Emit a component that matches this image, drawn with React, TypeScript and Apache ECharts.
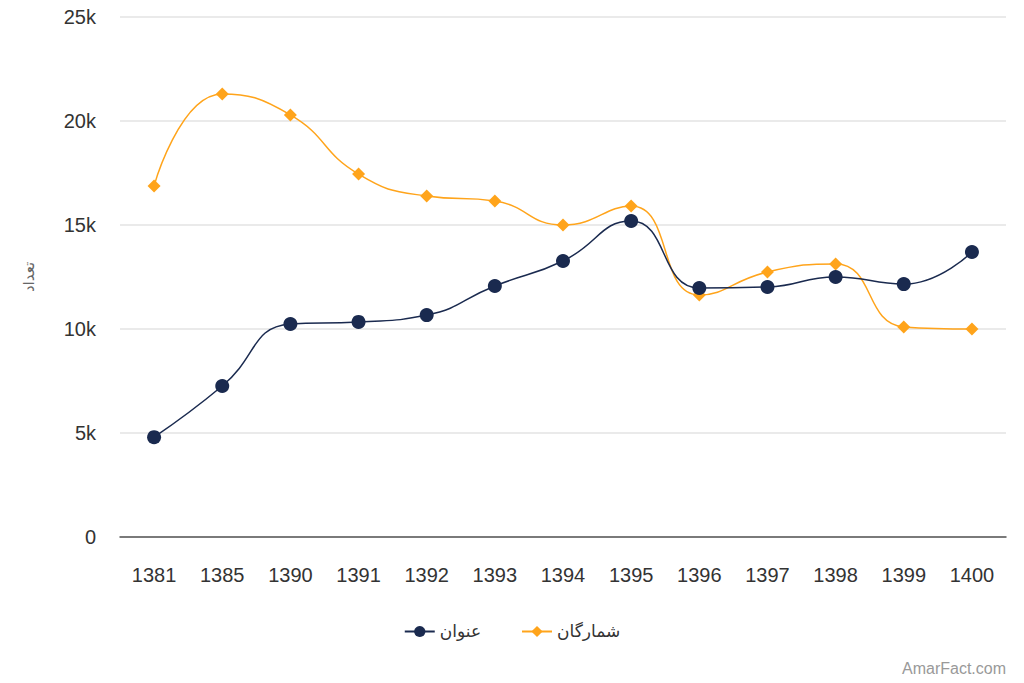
import React, { useEffect, useRef } from "react";
import * as echarts from "echarts";

const years = ["1381", "1385", "1390", "1391", "1392", "1393", "1394", "1395", "1396", "1397", "1398", "1399", "1400"];
const titles = [4800, 7260, 10240, 10340, 10670, 12070, 13270, 15190, 11970, 12020, 12500, 12160, 13700];
const copies = [16880, 21300, 20290, 17450, 16390, 16150, 15000, 15910, 11630, 12740, 13130, 10100, 10000];
const yTicks = [0, 5000, 10000, 15000, 20000, 25000];

const FONT = "'Liberation Sans', 'DejaVu Sans', sans-serif";

export default function App() {
  const ref = useRef<HTMLDivElement>(null);
  useEffect(() => {
    document.body.style.margin = "0";
    const chart = echarts.init(ref.current!, undefined, { renderer: "svg" });
    chart.setOption({
      animation: false,
      textStyle: { fontFamily: FONT },
      grid: { left: 120, right: 18, top: 17, bottom: 146 },
      legend: {
        bottom: 38,
        left: "center",
        itemGap: 40,
        itemWidth: 30,
        itemHeight: 14,
        textStyle: { fontSize: 17, color: "#333", fontFamily: FONT },
        data: ["عنوان", "شمارگان"],
      },
      xAxis: {
        type: "category",
        data: years,
        axisTick: { show: false },
        axisLine: { lineStyle: { color: "#555", width: 1.5 } },
        axisLabel: { fontSize: 20, color: "#333", margin: 28 },
      },
      yAxis: {
        type: "value",
        min: yTicks[0],
        max: yTicks[yTicks.length - 1],
        interval: 5000,
        name: "تعداد",
        nameLocation: "middle",
        nameRotate: 90,
        nameGap: 84,
        nameTextStyle: { fontSize: 15, color: "#666" },
        axisLabel: {
          fontSize: 20,
          color: "#333",
          margin: 24,
          formatter: (v: number) => (v === 0 ? "0" : v / 1000 + "k"),
        },
        splitLine: { lineStyle: { color: "#e3e3e3", width: 1.5 } },
      },
      series: [
        {
          name: "عنوان",
          type: "line",
          smooth: true,
          data: titles,
          symbol: "circle",
          symbolSize: 14,
          itemStyle: { color: "#1a2a4f" },
          lineStyle: { color: "#1a2a4f", width: 1.5 },
          z: 3,
        },
        {
          name: "شمارگان",
          type: "line",
          smooth: true,
          data: copies,
          symbol: "diamond",
          symbolSize: 13,
          itemStyle: { color: "#ffa41b" },
          lineStyle: { color: "#ffa41b", width: 1.5 },
          z: 2,
        },
      ],
      graphic: [
        {
          type: "text",
          right: 18,
          bottom: 7,
          style: { text: "AmarFact.com", fontSize: 16, fill: "#999", fontFamily: FONT },
        },
      ],
    });
    return () => chart.dispose();
  }, []);
  return <div ref={ref} style={{ width: 1024, height: 683 }} />;
}
